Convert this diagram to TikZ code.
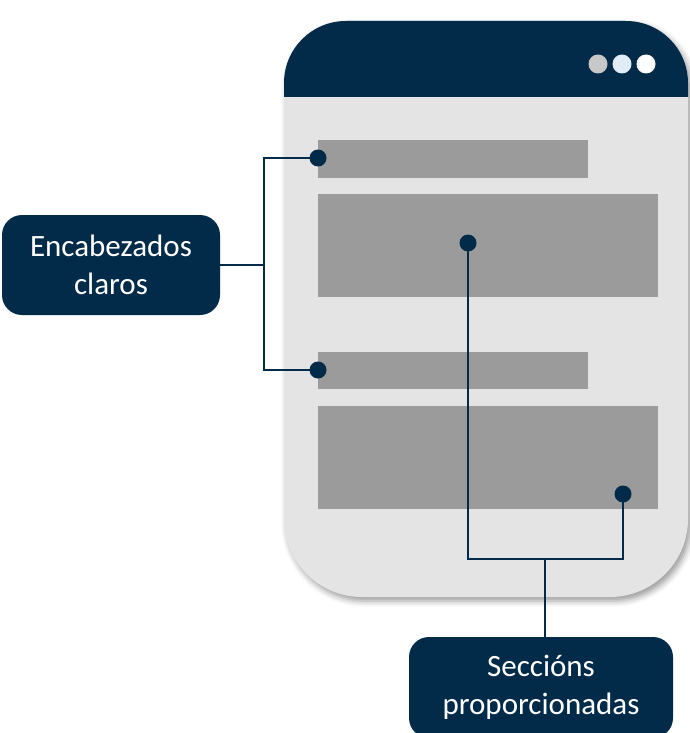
\documentclass[tikz,border=0pt]{standalone}
\usepackage{fontspec}
\setmainfont{Carlito}
\usetikzlibrary{shadows.blur}
\definecolor{navy}{HTML}{022B4A}
\definecolor{bodygray}{HTML}{E4E4E4}
\definecolor{bargray}{HTML}{9B9B9B}
\definecolor{dotgray}{HTML}{C8C8C8}
\definecolor{dotblue}{HTML}{E1ECF7}
\newcommand{\mydevpath}{(284,519) -- (284,83) arc[start angle=180,end angle=270,radius=62]
  -- (626,21) arc[start angle=270,end angle=360,radius=62]
  -- (688,519) arc[start angle=0,end angle=90,radius=78]
  -- (362,597) arc[start angle=90,end angle=180,radius=78] -- cycle}
\tikzset{
  bar/.style={fill=bargray, draw=none},
  pin/.style={circle, fill=navy, inner sep=0pt, minimum size=17pt},
  conn/.style={draw=navy, line width=2pt},
  callout/.style={fill=navy, draw=none, rounded corners=20pt, text=white, align=center,
    font=\fontsize{31}{38}\selectfont, inner sep=0pt},
  wdot/.style={circle, inner sep=0pt, minimum size=19pt}
}
\begin{document}
\begin{tikzpicture}[x=1pt,y=-1pt]
\useasboundingbox (0,0) rectangle (689,733);
% device body
\fill[bodygray, blur shadow={shadow xshift=3pt, shadow yshift=-4pt, shadow blur radius=6pt, shadow opacity=40}]
  \mydevpath;
\begin{scope}
  \clip (270,0) rectangle (700,97);
  \fill[navy] \mydevpath;
\end{scope}
% window dots
\node[wdot, fill=dotgray] (w1) at (598,64) {};
\node[wdot, fill=dotblue] (w2) at (622,64) {};
\node[wdot, fill=white] (w3) at (646,64) {};
% content bars
\fill[bar] (318,140) rectangle (588,178);
\fill[bar] (318,194) rectangle (658,297);
\fill[bar] (318,352) rectangle (588,389);
\fill[bar] (318,406) rectangle (658,509);
% callouts
\node[callout, minimum width=218pt, minimum height=100pt] (enc) at (111,265) {Encabezados\\claros};
\node[callout, minimum width=264pt, minimum height=101pt] (sec) at (541,687.5) {Seccións\\proporcionadas};
% pins
\node[pin] (d1) at (318,158) {};
\node[pin] (d2) at (318,370) {};
\node[pin] (d3) at (468,243) {};
\node[pin] (d4) at (623,494) {};
% junctions
\coordinate (j1) at (264,158);
\coordinate (j2) at (264,370);
\coordinate (j3) at (468,559);
\coordinate (j4) at (623,559);
\coordinate (j5) at (545,559);
% connectors
\draw[conn] (d1.center) -- (j1) -- (j2) -- (d2.center);
\draw[conn] (enc.east) -- (enc.east -| j1);
\draw[conn] (d3.center) -- (j3) -- (j4) -- (d4.center);
\draw[conn] (j5) -- (sec.north -| j5);
\end{tikzpicture}
\end{document}
